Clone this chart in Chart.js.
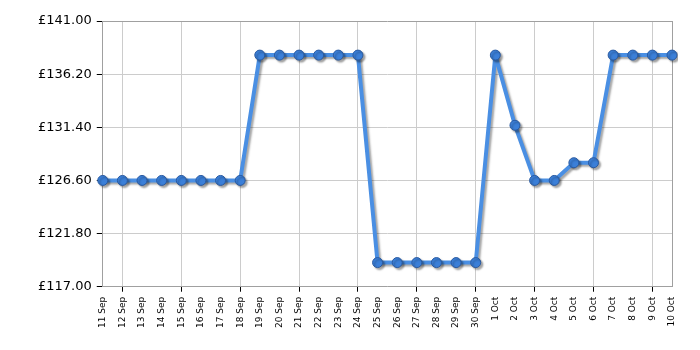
<!DOCTYPE html>
<html>
<head>
<meta charset="utf-8">
<script src="https://cdn.jsdelivr.net/npm/chart.js@4"></script>
<style>
html,body{margin:0;padding:0;background:#fff;}
#wrap{width:700px;height:350px;}
</style>
</head>
<body>
<div id="wrap"><canvas id="c"></canvas></div>
<script>
const categories = ["11 Sep","12 Sep","13 Sep","14 Sep","15 Sep","16 Sep","17 Sep","18 Sep","19 Sep","20 Sep","21 Sep","22 Sep","23 Sep","24 Sep","25 Sep","26 Sep","27 Sep","28 Sep","29 Sep","30 Sep","1 Oct","2 Oct","3 Oct","4 Oct","5 Oct","6 Oct","7 Oct","8 Oct","9 Oct","10 Oct"];
const prices = [126.60,126.60,126.60,126.60,126.60,126.60,126.60,126.60,137.92,137.92,137.92,137.92,137.92,137.92,119.18,119.18,119.18,119.18,119.18,119.18,137.92,131.58,126.60,126.60,128.20,128.20,137.92,137.92,137.92,137.92];
const yTicks = [117.00,121.80,126.60,131.40,136.20,141.00];

const shadowPlugin = {
  id: 'shadow',
  beforeDatasetsDraw(chart) {
    const ctx = chart.ctx;
    ctx.save();
    ctx.shadowColor = 'rgba(0,0,0,0.35)';
    ctx.shadowBlur = 2;
    ctx.shadowOffsetX = 2;
    ctx.shadowOffsetY = 2;
  },
  afterDatasetsDraw(chart) {
    chart.ctx.restore();
  }
};

new Chart(document.getElementById('c'), {
  type: 'line',
  data: {
    labels: categories,
    datasets: [{
      data: prices,
      borderColor: '#4a8fe3',
      borderWidth: 4,
      borderJoinStyle: 'round',
      tension: 0,
      pointRadius: 5,
      pointBackgroundColor: '#3b7fd8',
      pointBorderColor: '#2a5aa0',
      pointBorderWidth: 1,
      fill: false
    }]
  },
  options: {
    responsive: true,
    maintainAspectRatio: false,
    animation: false,
    layout: { padding: { left: 33, right: 28, top: 21, bottom: 17 } },
    plugins: { legend: { display: false }, tooltip: { enabled: false } },
    scales: {
      x: {
        offset: false,
        grid: {
          color: (c) => c.index === categories.length - 1 ? '#a0a0a0' : ((c.index - 1) % 3 === 0 ? '#cccccc' : 'rgba(0,0,0,0)'),
          tickColor: (c) => ((c.index - 1) % 3 === 0 && c.index !== categories.length - 1) ? '#000' : 'rgba(0,0,0,0)',
          tickLength: 5,
          drawTicks: true
        },
        border: { color: '#a0a0a0', width: 1 },
        ticks: {
          autoSkip: false,
          maxRotation: 90,
          minRotation: 90,
          color: '#000',
          padding: 5,
          font: { family: 'DejaVu Sans', size: 9 }
        }
      },
      y: {
        min: yTicks[0],
        max: yTicks[yTicks.length - 1],
        afterBuildTicks: (axis) => { axis.ticks = yTicks.map(v => ({ value: v })); },
        grid: {
          color: (c) => c.index === yTicks.length - 1 ? '#a0a0a0' : '#cccccc',
          tickColor: '#000',
          tickLength: 6
        },
        border: { color: '#a0a0a0', width: 1 },
        ticks: {
          color: '#000',
          padding: 5,
          font: { family: 'DejaVu Sans', size: 13 },
          callback: (v) => '£' + Number(v).toFixed(2)
        }
      }
    }
  },
  plugins: [shadowPlugin]
});
</script>
</body>
</html>
